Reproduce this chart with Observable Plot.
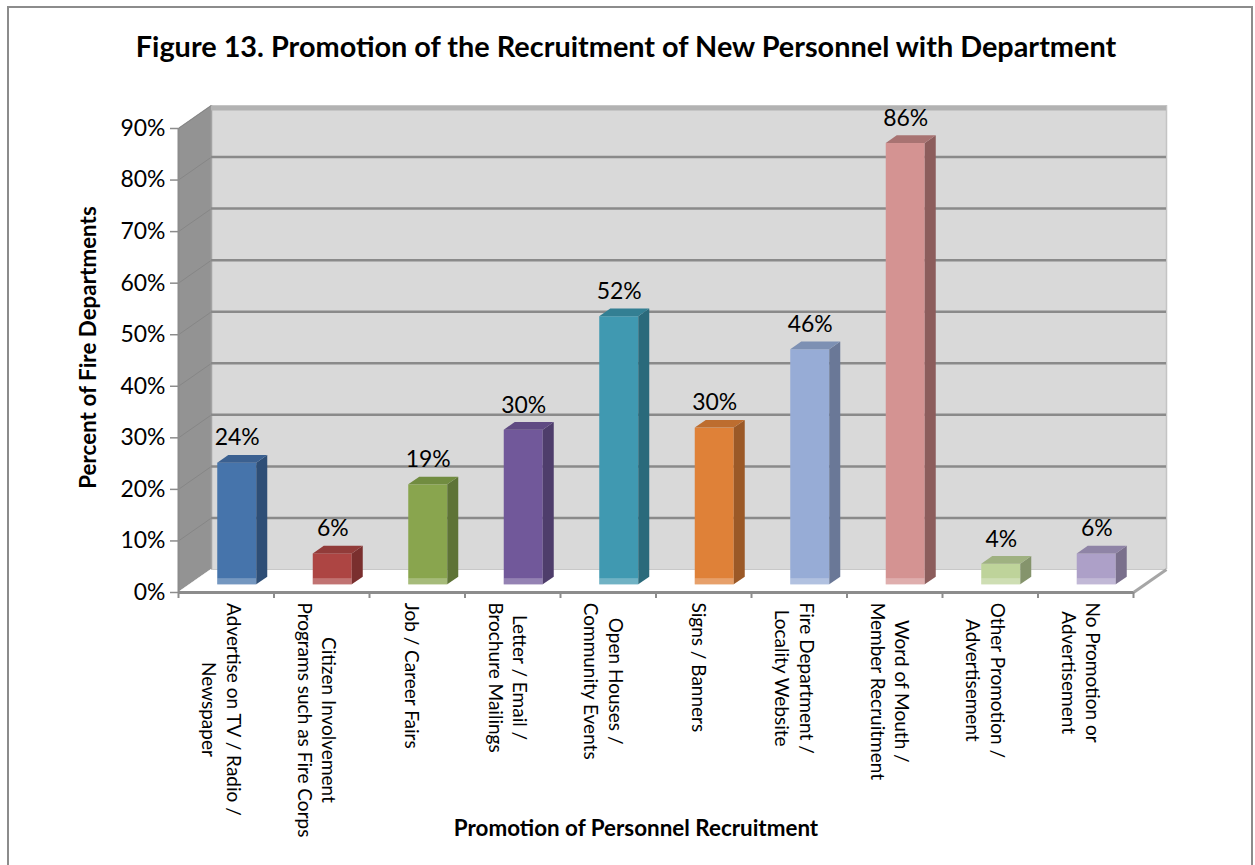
<!DOCTYPE html>
<html><head><meta charset="utf-8">
<script src="https://cdn.jsdelivr.net/npm/d3@7"></script>
<script src="https://cdn.jsdelivr.net/npm/@observablehq/plot@0.6"></script>
<style>
body{margin:0;background:#fff;font-family:Lato,sans-serif;}
#wrap{position:relative;width:1255px;height:865px;overflow:hidden;background:#fff;}
#border{position:absolute;left:7px;top:6px;width:1246px;height:900px;border:2px solid #8c8c8c;box-sizing:border-box;}
#title{position:absolute;left:0;top:31px;width:1252px;line-height:30px;text-align:center;font-weight:bold;font-family:Lato,sans-serif;white-space:nowrap;}
#chart{position:absolute;left:0;top:80px;}
</style></head>
<body>
<div id="wrap"><div id="border"></div><div id="title"></div><div id="chart"></div></div>
<script>
const titleText = "Figure 13. Promotion of the Recruitment of New Personnel with Department";
const xTitle = "Promotion of Personnel Recruitment";
const yTitle = "Percent of Fire Departments";
const categories = [
  "Advertise on TV / Radio /\nNewspaper",
  "Citizen Involvement\nPrograms such as Fire Corps",
  "Job / Career Fairs",
  "Letter / Email /\nBrochure Mailings",
  "Open Houses /\nCommunity Events",
  "Signs / Banners",
  "Fire Department /\nLocality Website",
  "Word of Mouth /\nMember Recruitment",
  "Other Promotion /\nAdvertisement",
  "No Promotion or\nAdvertisement"
];
const values = [23.6, 6.0, 19.4, 30.0, 52.0, 30.4, 45.6, 85.6, 4.0, 6.0];
const frontColors = ["#4674ab","#ad4543","#89a54e","#71589a","#4099b1","#df8138","#97acd6","#d49392","#bed39a","#ada0c8"];
const sideColors  = ["#2e4e76","#7a2f2e","#5e7336","#4e3d6b","#2a6a7b","#9b5927","#6a7897","#8c5d5c","#85946c","#7a708c"];
const topColors   = ["#3b6090","#913b39","#718c40","#5f4a82","#337f93","#bd6d2f","#7d90b3","#a87372","#9fb181","#8f84a6"];
const yTicks = [0, 10, 20, 30, 40, 50, 60, 70, 80, 90];

// text sizing helpers
const ctx = document.createElement("canvas").getContext("2d");
function fitSize(text, target, weight) {
  ctx.font = `${weight || "normal"} 100px Lato`;
  return 100 * target / ctx.measureText(text).width;
}
const titleFS = fitSize(titleText, 983, "bold");
const axisTitleFS = fitSize(xTitle, 365, "bold");
const tickFS = fitSize("90%", 45);
const labelFS = fitSize("Programs such as Fire Corps", 235);

const t = document.getElementById("title");
t.textContent = titleText;
t.style.fontSize = titleFS + "px";

const W = 1255, H = 785;
const mL = 178, mR = 122, mT = 48, mB = 273;
const XU = (W - mL - mR) / 10;
const YU = (H - mT - mB) / 90;
const DX = 33 / XU, DY = 23 / YU;   // depth of the 3D box
const BW = 39 / XU;                 // bar width

const bars = categories.map((c, i) => {
  const x1 = i + (1 - BW) / 2 + DX / 3;
  return {i, c, v: values[i], x1, x2: x1 + BW, front: frontColors[i], side: sideColors[i], top: topColors[i]};
});
const sidePts = bars.flatMap(b => [
  {z: b.i, x: b.x2, y1: DY / 3, y2: b.v + DY / 3, fill: b.side},
  {z: b.i, x: b.x2 + DX / 3, y1: 2 * DY / 3, y2: b.v + 2 * DY / 3, fill: b.side}
]);
const topPts = bars.flatMap(b => [
  {z: b.i, y: b.v + DY / 3, x1: b.x1, x2: b.x2, fill: b.top},
  {z: b.i, y: b.v + 2 * DY / 3, x1: b.x1 + DX / 3, x2: b.x2 + DX / 3, fill: b.top}
]);

ctx.font = `${labelFS}px Lato`;
const labelData = categories.map((c, i) => {
  const w = Math.max(...c.split("\n").map(s => ctx.measureText(s).width));
  return {c, x: i + 0.5, y: -(10 + w / 2) / YU};
});

const plot = Plot.plot({
  width: W, height: H,
  marginLeft: mL, marginRight: mR, marginTop: mT, marginBottom: mB,
  x: {domain: [0, 10]},
  y: {domain: [0, 90]},
  color: {type: "identity"},
  style: {fontFamily: "Lato, sans-serif", background: "transparent", overflow: "visible", color: "black"},
  marks: [
    // back wall
    Plot.rect([0], {x1: DX, x2: 10 + DX, y1: DY, y2: 90 + DY, fill: "#d9d9d9"}),
    Plot.ruleX([0], {x: 10 + DX, y1: DY, y2: 90 + DY, stroke: "#c4c4c4", strokeWidth: 1.5}),
    // left wall
    Plot.areaY([{x: 0, y1: 0, y2: 90}, {x: DX, y1: DY, y2: 90 + DY}], {x: "x", y1: "y1", y2: "y2", fill: "#939393"}),
    Plot.link(yTicks, {x1: 0, y1: d => d, x2: DX, y2: d => d + DY, stroke: "#868686", strokeWidth: 1}),
    Plot.ruleX([0], {x: DX, y1: DY, y2: 90 + DY, stroke: "#a3a3a3", strokeWidth: 1.5}),
    // floor
    Plot.areaX([{y: 0, x1: 0, x2: 10}, {y: DY, x1: DX, x2: 10 + DX}], {y: "y", x1: "x1", x2: "x2", fill: "white"}),
    Plot.ruleY([0], {y: DY, x1: DX, x2: 10 + DX, stroke: "#c8c8c8", strokeWidth: 1}),
    Plot.link([0], {x1: 10, y1: 0, x2: 10 + DX, y2: DY, stroke: "#a6a6a6", strokeWidth: 3}),
    // back wall gridlines
    Plot.ruleY(yTicks.slice(1, -1), {y: d => d + DY, x1: DX, x2: 10 + DX, stroke: "#8a8a8a", strokeWidth: 2.5}),
    Plot.ruleY([90], {y: d => d + DY, x1: DX, x2: 10 + DX, stroke: "#b2b2b2", strokeWidth: 5, dy: 2.5}),
    // axes
    Plot.ruleX([0], {y1: 0, y2: 90, stroke: "#8c8c8c", strokeWidth: 2}),
    Plot.ruleY([0], {x1: 0, x2: 10, stroke: "#8c8c8c", strokeWidth: 3}),
    Plot.axisY({ticks: yTicks, tickFormat: d => d + "%", tickSize: 8, tickPadding: 5, stroke: "#8c8c8c", strokeWidth: 1.5, fontSize: tickFS, anchor: "left"}),
    Plot.axisX({ticks: d3.range(0, 11), tickFormat: () => "", tickSize: 6, stroke: "#8c8c8c", strokeWidth: 2, anchor: "bottom"}),
    // bars
    Plot.rect(bars, {x1: "x1", x2: "x2", y1: DY / 3, y2: d => d.v + DY / 3, fill: "front"}),
    Plot.rect(bars, {x1: "x1", x2: "x2", y1: DY / 3, y2: DY / 3 + 1.2, fill: "white", fillOpacity: 0.25}),
    Plot.areaY(sidePts, {x: "x", y1: "y1", y2: "y2", z: "z", fill: "fill"}),
    Plot.areaX(topPts, {y: "y", x1: "x1", x2: "x2", z: "z", fill: "fill"}),
    // value labels
    Plot.text(bars, {x: d => (d.x1 + d.x2) / 2, y: d => d.v + 2 * DY / 3, text: d => Math.round(d.v) + "%", lineAnchor: "bottom", dy: -10, fontSize: tickFS, fill: "black"}),
    // category labels
    Plot.text(labelData, {x: "x", y: "y", text: "c", rotate: 90, textAnchor: "middle", lineAnchor: "middle", lineHeight: 1.3, fontSize: labelFS, dx: -4, fill: "black"}),
    // axis titles
    Plot.text([yTitle], {text: d => d, frameAnchor: "left", rotate: -90, dx: -90, dy: -13, fontWeight: "bold", fontSize: axisTitleFS, textAnchor: "middle", lineAnchor: "middle", fill: "black"}),
    Plot.text([xTitle], {text: d => d, frameAnchor: "bottom", dx: -20, dy: 243, fontWeight: "bold", fontSize: axisTitleFS, lineAnchor: "bottom", fill: "black"})
  ]
});
document.getElementById("chart").appendChild(plot);
</script>
</body></html>
